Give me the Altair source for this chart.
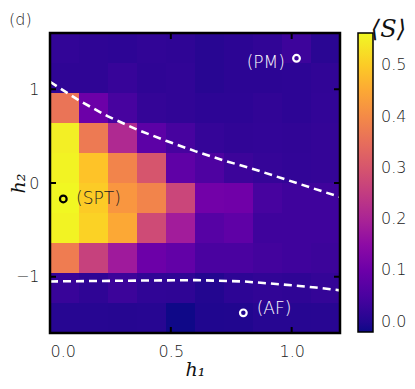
import altair as alt
import pandas as pd

# ---- grid (cell edges) ----
h1_edges = [0.0, 0.12, 0.24, 0.36, 0.48, 0.60, 0.72, 0.84, 0.96, 1.08, 1.20]
h2_edges = [1.60, 1.28, 0.96, 0.64, 0.32, 0.00, -0.32, -0.64, -0.96, -1.28, -1.60]  # top -> bottom

# ---- <S> per row, from top row (h2 ~ 1.44) to bottom row (h2 ~ -1.44) ----
S_row0 = [0.018, 0.014, 0.012, 0.016, 0.014, 0.006, 0.010, 0.016, 0.032, 0.008]
S_row1 = [0.014, 0.014, 0.024, 0.014, 0.016, 0.006, 0.010, 0.010, 0.012, 0.016]
S_row2 = [0.360, 0.100, 0.045, 0.020, 0.016, 0.012, 0.012, 0.016, 0.012, 0.018]
S_row3 = [0.550, 0.370, 0.210, 0.075, 0.045, 0.022, 0.016, 0.018, 0.016, 0.020]
S_row4 = [0.555, 0.490, 0.390, 0.300, 0.080, 0.055, 0.030, 0.022, 0.018, 0.020]
S_row5 = [0.560, 0.500, 0.420, 0.390, 0.270, 0.108, 0.105, 0.045, 0.035, 0.035]
S_row6 = [0.555, 0.510, 0.450, 0.280, 0.185, 0.067, 0.080, 0.035, 0.035, 0.035]
S_row7 = [0.375, 0.260, 0.180, 0.100, 0.085, 0.050, 0.050, 0.040, 0.035, 0.030]
S_row8 = [0.025, 0.014, 0.030, 0.015, 0.014, 0.000, 0.012, 0.016, 0.014, 0.020]
S_row9 = [0.004, 0.004, 0.003, 0.004, -0.018, -0.003, -0.002, 0.004, 0.004, 0.006]
S_rows = [S_row0, S_row1, S_row2, S_row3, S_row4, S_row5, S_row6, S_row7, S_row8, S_row9]

# ---- dashed phase boundaries ----
upper_h1 = [0.0, 0.12, 0.24, 0.36, 0.48, 0.60, 0.72, 0.84, 0.96, 1.08, 1.20]
upper_h2 = [1.08, 0.88, 0.71, 0.57, 0.45, 0.34, 0.24, 0.15, 0.05, -0.05, -0.15]
lower_h1 = [0.0, 0.2, 0.4, 0.6, 0.8, 0.9, 1.0, 1.1, 1.2]
lower_h2 = [-1.05, -1.045, -1.04, -1.036, -1.05, -1.07, -1.09, -1.115, -1.145]

# ---- marked points and labels ----
white_pt_h1 = [1.02, 0.80]
white_pt_h2 = [1.33, -1.385]
black_pt_h1 = [0.055]
black_pt_h2 = [-0.17]
pm_label = ["(PM)"]; pm_h1 = [0.972]; pm_h2 = [1.28]
af_label = ["(AF)"]; af_h1 = [0.855]; af_h2 = [-1.34]
spt_label = ["(SPT)"]; spt_h1 = [0.108]; spt_h2 = [-0.17]

x_ticks = [0.0, 0.5, 1.0]
y_ticks = [-1, 0, 1]
cbar_ticks = [0.0, 0.1, 0.2, 0.3, 0.4, 0.5]
x_lim = [0.0, 1.2]
y_lim = [-1.6, 1.6]

# ---- tables ----
cells = []
for i, row in enumerate(S_rows):
    for j, v in enumerate(row):
        cells.append({"h1": h1_edges[j], "h1_end": h1_edges[j + 1],
                      "h2": h2_edges[i + 1], "h2_end": h2_edges[i], "S": v})
cells = pd.DataFrame(cells)
upper = pd.DataFrame({"h1": upper_h1, "h2": upper_h2})
lower = pd.DataFrame({"h1": lower_h1, "h2": lower_h2})

W, H = 290, 300
LFONT = "DejaVu Sans"
SFONT = "DejaVu Serif"

xscale = alt.Scale(domain=x_lim, nice=False, zero=False)
yscale = alt.Scale(domain=y_lim, nice=False, zero=False)
xaxis = alt.Axis(values=x_ticks, format=".1f", ticks=False, tickSize=0, domain=False, grid=False,
                 labelPadding=10, labelFontSize=16, labelFont=LFONT, labelColor="#222",
                 labelFontWeight=300, titleFont=SFONT, titleFontSize=19, titleFontStyle="italic",
                 titleFontWeight="normal", titleColor="#111", titleY=27)
yaxis = alt.Axis(values=y_ticks, format="d", ticks=False, tickSize=0, domain=False, grid=False,
                 labelPadding=11, labelFontSize=16, labelFont=LFONT, labelColor="#222",
                 labelFontWeight=300, titleFont=SFONT, titleFontSize=19, titleFontStyle="italic",
                 titleFontWeight="normal", titleColor="#111", titleX=-22, titleY=H / 2)


def X(f):
    return alt.X(f"{f}:Q", scale=xscale, axis=xaxis, title="h₁")


def Y(f):
    return alt.Y(f"{f}:Q", scale=yscale, axis=yaxis, title="h₂")


cscale = alt.Scale(scheme="plasma", domain=[-0.02, 0.563], nice=False, zero=False)
heat = alt.Chart(cells).mark_rect(strokeWidth=0).encode(
    x=X("h1"), x2="h1_end", y=Y("h2"), y2="h2_end",
    color=alt.Color("S:Q", scale=cscale,
                    legend=alt.Legend(type="gradient", orient="none", legendX=308, legendY=-15,
                                      direction="vertical",
                                      gradientLength=299, gradientThickness=15,
                                      gradientStrokeColor="black", gradientStrokeWidth=1.5,
                                      values=cbar_ticks, labelExpr="format(datum.value, '.1f') + '    '",
                                      labelFontSize=16, labelFont=LFONT, labelFontWeight=300,
                                      labelColor="#222", labelOffset=8, title="⟨S⟩", titleFont=SFONT,
                                      titleFontSize=24, titleFontStyle="italic",
                                      titleFontWeight="normal", titleColor="#111",
                                      titleOrient="top", titleAnchor="end", titlePadding=-9,
                                      padding=0))
)

dash = dict(color="white", strokeWidth=2.6, strokeDash=[8, 5])
line_up = alt.Chart(upper).mark_line(**dash).encode(x=X("h1"), y=Y("h2"))
line_lo = alt.Chart(lower).mark_line(**dash).encode(x=X("h1"), y=Y("h2"))

# plot frame drawn through the scales
frame_df = pd.DataFrame({"h1": [x_lim[0]], "h1_end": [x_lim[1]], "h2": [y_lim[0]], "h2_end": [y_lim[1]]})
frame = alt.Chart(frame_df).mark_rect(fill="transparent", stroke="black", strokeWidth=2.5).encode(
    x=X("h1"), x2="h1_end", y=Y("h2"), y2="h2_end")

# inward ticks on all four sides
xt_bot = pd.DataFrame({"h1": x_ticks, "h2": [y_lim[0]] * len(x_ticks)})
xt_top = pd.DataFrame({"h1": x_ticks, "h2": [y_lim[1]] * len(x_ticks)})
yt_lef = pd.DataFrame({"h1": [x_lim[0]] * len(y_ticks), "h2": y_ticks})
yt_rig = pd.DataFrame({"h1": [x_lim[1]] * len(y_ticks), "h2": y_ticks})
t_bot = alt.Chart(xt_bot).mark_tick(color="black", orient="vertical", size=6, thickness=2, yOffset=-3,
                                    opacity=1).encode(x=X("h1"), y=Y("h2"))
t_top = alt.Chart(xt_top).mark_tick(color="black", orient="vertical", size=6, thickness=2, yOffset=3,
                                    opacity=1).encode(x=X("h1"), y=Y("h2"))
t_lef = alt.Chart(yt_lef).mark_tick(color="black", orient="horizontal", size=6, thickness=2, xOffset=3,
                                    opacity=1).encode(x=X("h1"), y=Y("h2"))
t_rig = alt.Chart(yt_rig).mark_tick(color="black", orient="horizontal", size=6, thickness=2, xOffset=-3,
                                    opacity=1).encode(x=X("h1"), y=Y("h2"))

pts_w = alt.Chart(pd.DataFrame({"h1": white_pt_h1, "h2": white_pt_h2})).mark_point(
    shape="circle", filled=False, size=45, strokeWidth=2.2, color="white", opacity=1).encode(
    x=X("h1"), y=Y("h2"))
pts_b = alt.Chart(pd.DataFrame({"h1": black_pt_h1, "h2": black_pt_h2})).mark_point(
    shape="circle", filled=False, size=45, strokeWidth=2.2, color="black", opacity=1).encode(
    x=X("h1"), y=Y("h2"))

txt = dict(font=LFONT, fontSize=17, fontWeight=300, baseline="middle")
lab_pm = alt.Chart(pd.DataFrame({"t": pm_label, "h1": pm_h1, "h2": pm_h2})).mark_text(
    align="right", color="white", **txt).encode(x=X("h1"), y=Y("h2"), text="t:N")
lab_af = alt.Chart(pd.DataFrame({"t": af_label, "h1": af_h1, "h2": af_h2})).mark_text(
    align="left", color="white", **txt).encode(x=X("h1"), y=Y("h2"), text="t:N")
lab_spt = alt.Chart(pd.DataFrame({"t": spt_label, "h1": spt_h1, "h2": spt_h2})).mark_text(
    align="left", color="#222", **txt).encode(x=X("h1"), y=Y("h2"), text="t:N")

chart = alt.layer(
    heat, line_up, line_lo, frame, t_bot, t_top, t_lef, t_rig, pts_w, pts_b, lab_pm, lab_af, lab_spt
).properties(
    width=W, height=H,
    autosize=alt.AutoSizeParams(type="none"),
    padding={"left": 42, "top": 25, "right": 67, "bottom": 48},
    title=alt.TitleParams("(d)", anchor="start", frame="group", dx=-41, offset=0, dy=10,
                          fontSize=16, font=LFONT, fontWeight=300, color="#222"),
).configure_view(strokeWidth=0)

chart.save("out.html", embed_options={"renderer": "svg", "actions": False})
